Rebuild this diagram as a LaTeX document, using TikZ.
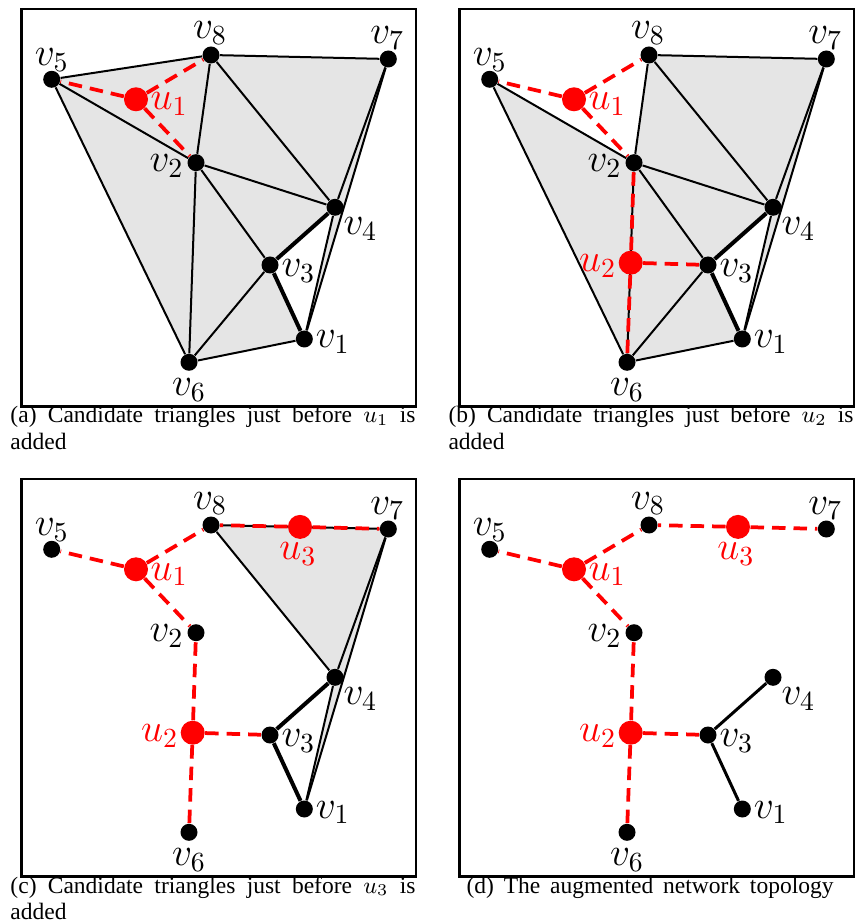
\RequirePackage{fix-cm}
\documentclass[tikz,border=0pt]{standalone}
\usepackage{fontspec}
\setmainfont{Liberation Serif}
\usetikzlibrary{backgrounds}
\definecolor{trigray}{RGB}{229,229,229}
\tolerance=9999
\hbadness=10000
\tikzset{
  vdot/.style={circle,fill=black,inner sep=0pt,minimum size=6.8pt},
  udot/.style={circle,fill=red,inner sep=0pt,minimum size=9.6pt},
  tedge/.style={line width=0.8pt},
  kedge/.style={line width=1.6pt},
  medge/.style={line width=1.2pt},
  rdash/.style={red,line width=1.5pt,dash pattern=on 5.4pt off 3.2pt},
  frm/.style={line width=1.1pt},
  tri/.style={fill=trigray},
  vlab/.style={font=\fontsize{15.8}{15.8}\selectfont,inner sep=0pt,anchor=base},
  ulab/.style={vlab,text=red},
  capt/.style={font=\fontsize{9.4}{10.6}\selectfont,inner sep=0pt,text width=162pt,align=justify,anchor=base west},
}
\newcommand\vnodes{%
  \node[vdot] (v1) at (304.3,339) {};
  \node[vdot] (v2) at (196,162.7) {};
  \node[vdot] (v3) at (270,265) {};
  \node[vdot] (v4) at (335,207.3) {};
  \node[vdot] (v5) at (51.7,79.3) {};
  \node[vdot] (v6) at (189,362.3) {};
  \node[vdot] (v7) at (388.3,59) {};
  \node[vdot] (v8) at (211,55) {};
  \node[vlab] (v1l) at ([shift={(11,9)}]v1.center) [anchor=base west] {$v_1$};
  \node[vlab] (v2l) at ([shift={(-12,9)}]v2.center) [anchor=base east] {$v_2$};
  \node[vlab] (v3l) at ([shift={(11,11.7)}]v3.center) [anchor=base west] {$v_3$};
  \node[vlab] (v4l) at ([shift={(8,27)}]v4.center) [anchor=base west] {$v_4$};
  \node[vlab] (v5l) at ([shift={(0,-14)}]v5.center) {$v_5$};
  \node[vlab] (v6l) at ([shift={(0,33)}]v6.center) {$v_6$};
  \node[vlab] (v7l) at ([shift={(-1,-15)}]v7.center) {$v_7$};
  \node[vlab] (v8l) at ([shift={(-1,-16)}]v8.center) {$v_8$};
  \draw[frm] (21.7,9) rectangle (416,406.7);
}
\newcommand\uone{%
  \node[udot] (u1) at (136,99.3) {};
  \node[ulab] (u1l) at ([shift={(14,10.7)}]u1.center) [anchor=base west] {$u_1$};
}
\newcommand\utwo{%
  \node[udot] (u2) at (192.7,262.7) {};
  \node[ulab] (u2l) at ([shift={(-14,9)}]u2.center) [anchor=base east] {$u_2$};
}
\newcommand\uthree{%
  \node[udot] (u3) at (300,56.9) {};
  \node[ulab] (u3l) at ([shift={(-2,33)}]u3.center) {$u_3$};
}
\begin{document}
\begin{tikzpicture}[x=0.4pt,y=-0.4pt]
\useasboundingbox (0,0) rectangle (857,924);

% ---------------- panel (a)
\begin{scope}[name prefix=a-]
  \vnodes \uone
  \begin{pgfonlayer}{background}
    \foreach \p/\q/\r in {v5/v8/v2,v8/v2/v4,v8/v4/v7,v4/v7/v1,v2/v4/v3,v2/v3/v6,v5/v2/v6,v6/v3/v1}
      \fill[tri] (\p.center) -- (\q.center) -- (\r.center) -- cycle;
    \foreach \p/\q in {v5/v8,v8/v7,v5/v2,v5/v6,v8/v2,v8/v4,v7/v4,v7/v1,v4/v1,v2/v4,v2/v3,v2/v6,v3/v6,v6/v1}
      \draw[tedge] (\p) -- (\q);
    \draw[kedge] (v4) -- (v3);
    \draw[kedge] (v3) -- (v1);
    \foreach \q in {v5,v8,v2}
      \draw[rdash] (u1) -- (\q);
  \end{pgfonlayer}
\end{scope}
\node[capt] (capa) at (10,423) {(a) Candidate triangles just before $u_1$ is \mbox{added}};

% ---------------- panel (b)
\begin{scope}[name prefix=b-,shift={(438,0)}]
  \vnodes \uone \utwo
  \begin{pgfonlayer}{background}
    \foreach \p/\q/\r in {v8/v2/v4,v8/v4/v7,v4/v7/v1,v2/v4/v3,v2/v3/v6,v5/v2/v6,v6/v3/v1}
      \fill[tri] (\p.center) -- (\q.center) -- (\r.center) -- cycle;
    \foreach \p/\q in {v8/v7,v5/v2,v5/v6,v8/v2,v8/v4,v7/v4,v7/v1,v4/v1,v2/v4,v2/v3,v2/v6,v3/v6,v6/v1}
      \draw[tedge] (\p) -- (\q);
    \draw[kedge] (v4) -- (v3);
    \draw[kedge] (v3) -- (v1);
    \foreach \q in {v5,v8,v2}
      \draw[rdash] (u1) -- (\q);
    \foreach \q in {v2,v6,v3}
      \draw[rdash] (u2) -- (\q);
  \end{pgfonlayer}
\end{scope}
\node[capt] (capb) at (448,423) {(b) Candidate triangles just before $u_2$ is \mbox{added}};

% ---------------- panel (c)
\begin{scope}[name prefix=c-,shift={(0,470)}]
  \vnodes \uone \utwo \uthree
  \begin{pgfonlayer}{background}
    \foreach \p/\q/\r in {v8/v4/v7,v4/v7/v1}
      \fill[tri] (\p.center) -- (\q.center) -- (\r.center) -- cycle;
    \foreach \p/\q in {v8/v7,v8/v4,v7/v4,v7/v1,v4/v1}
      \draw[tedge] (\p) -- (\q);
    \draw[kedge] (v4) -- (v3);
    \draw[kedge] (v3) -- (v1);
    \foreach \q in {v5,v8,v2}
      \draw[rdash] (u1) -- (\q);
    \foreach \q in {v2,v6,v3}
      \draw[rdash] (u2) -- (\q);
    \foreach \q in {v8,v7}
      \draw[rdash] (u3) -- (\q);
  \end{pgfonlayer}
\end{scope}
\node[capt] (capc) at (10,893) {(c) Candidate triangles just before $u_3$ is \mbox{added}};

% ---------------- panel (d)
\begin{scope}[name prefix=d-,shift={(438,470)}]
  \vnodes \uone \utwo \uthree
  \begin{pgfonlayer}{background}
    \draw[medge] (v3) -- (v4);
    \draw[medge] (v3) -- (v1);
    \foreach \q in {v5,v8,v2}
      \draw[rdash] (u1) -- (\q);
    \foreach \q in {v2,v6,v3}
      \draw[rdash] (u2) -- (\q);
    \foreach \q in {v8,v7}
      \draw[rdash] (u3) -- (\q);
  \end{pgfonlayer}
\end{scope}
\node[font=\fontsize{9.4}{10.6}\selectfont,inner sep=0pt,anchor=base] (capd) at (650,893)
  {\makebox[146.8pt][s]{(d) The augmented network topology}};
\end{tikzpicture}
\end{document}
